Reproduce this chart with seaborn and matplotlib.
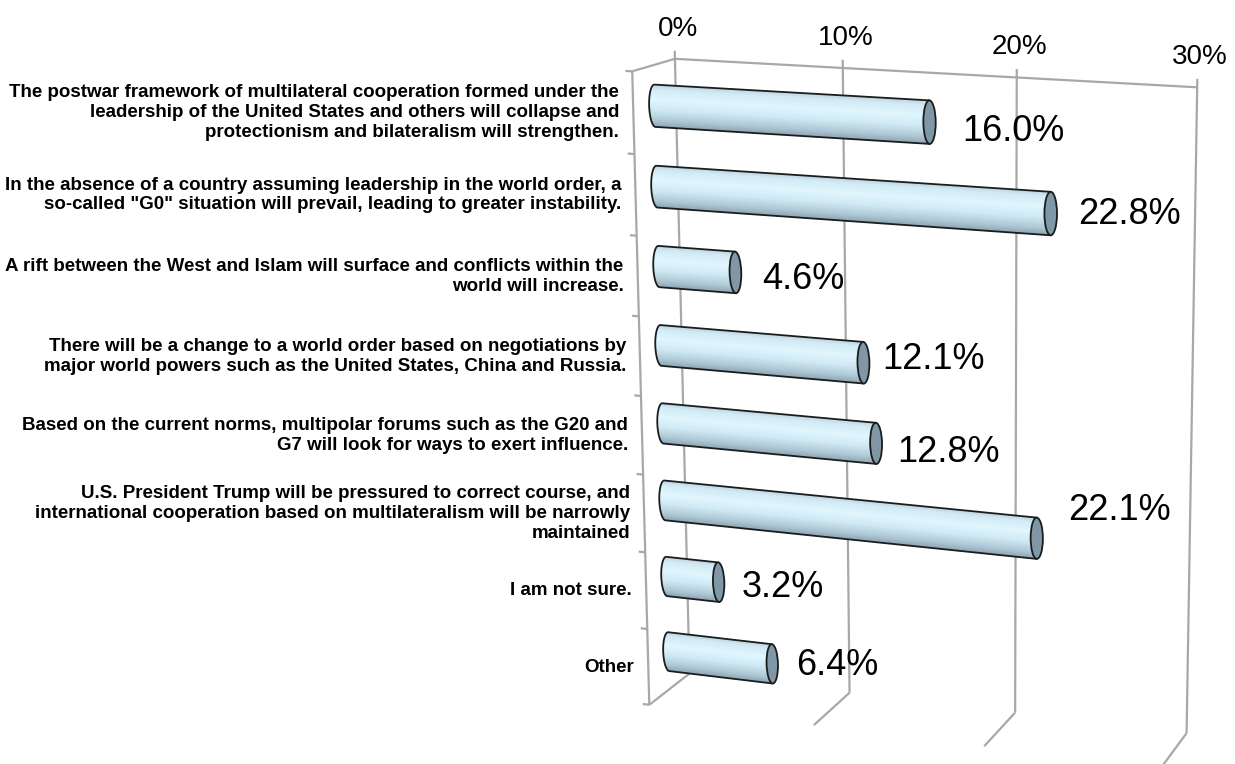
import numpy as np
import pandas as pd
import matplotlib
matplotlib.use("Agg")
import matplotlib.pyplot as plt
import seaborn as sns
from matplotlib.transforms import Transform, Affine2D
from matplotlib.patches import Ellipse
from matplotlib.collections import PolyCollection
from matplotlib.colors import LinearSegmentedColormap

answers = [
    "The postwar framework of multilateral cooperation formed under the\n"
    "leadership of the United States and others will collapse and\n"
    "protectionism and bilateralism will strengthen.",
    "In the absence of a country assuming leadership in the world order, a\n"
    "so-called \"G0\" situation will prevail, leading to greater instability.",
    "A rift between the West and Islam will surface and conflicts within the\n"
    "world will increase.",
    "There will be a change to a world order based on negotiations by\n"
    "major world powers such as the United States, China and Russia.",
    "Based on the current norms, multipolar forums such as the G20 and\n"
    "G7 will look for ways to exert influence.",
    "U.S. President Trump will be pressured to correct course, and\n"
    "international cooperation based on multilateralism will be narrowly\n"
    "maintained",
    "I am not sure.",
    "Other",
]
shares = [16.0, 22.8, 4.6, 12.1, 12.8, 22.1, 3.2, 6.4]
x_ticks = [0, 10, 20, 30]
x_tick_labels = ["0%", "10%", "20%", "30%"]

# Projective camera of the 3D chart box: (value %, category row, depth) -> image pixels
CAMERA = np.array([
    [15.761348473466947, 6.263390388283098, 64.87475850396225, 633.3409049516717],
    [0.8199729302707255, 83.424575985697, -10.51734908727567, 112.79693302190563],
    [-0.001809962659201858, 0.006367722335778758, 0.033042573663046915, 1.0],
])

W_PX, H_PX = 1235, 764
Y_TOP, Y_BOT = -0.5, 7.5
CAP_W = 0.7          # width of the tube end caps, in percent units
BAR_W = 0.52


def plane(origin, e1, e2):
    m = np.zeros((4, 3))
    m[:3, 0] = e1
    m[:3, 1] = e2
    m[:3, 2] = origin
    m[3, 2] = 1.0
    return CAMERA @ m


class PlaneView(Transform):
    """Perspective view of one plane of the 3D chart box, in display pixels."""
    input_dims = 2
    output_dims = 2
    is_separable = False
    has_inverse = False

    def __init__(self, hom):
        super().__init__()
        self._hom = np.asarray(hom, float)

    def transform_non_affine(self, values):
        v = np.asarray(values, float).reshape(-1, 2)
        p = np.column_stack([v, np.ones(len(v))]) @ self._hom.T
        return np.column_stack([p[:, 0] / p[:, 2], H_PX - p[:, 1] / p[:, 2]])


bar_view = PlaneView(plane([0, 0, 0.5], [1, 0, 0], [0, 1, 0]))
back_view = PlaneView(plane([0, 0, 1], [1, 0, 0], [0, 1, 0]))
front_view = PlaneView(plane([0, 0, 0], [1, 0, 0], [0, 1, 0]))
floor_view = PlaneView(plane([0, Y_BOT, 0], [1, 0, 0], [0, 0, 1]))
side_view = PlaneView(plane([0, 0, 0], [0, 0, 1], [0, 1, 0]))

sns.set_theme(style="white")
plt.rcParams["font.family"] = ["Liberation Sans", "DejaVu Sans"]

fig = plt.figure(figsize=(W_PX / 100, H_PX / 100), dpi=100)
fig.patch.set_facecolor("white")
ax = fig.add_axes([0, 0, 1, 1])

df = pd.DataFrame({"answer": answers, "share": shares})
sns.barplot(data=df, x="share", y="answer", orient="h", color="#cfe9f5",
            width=BAR_W, saturation=1, errorbar=None, ax=ax)
ax.set_axis_off()
bars = list(ax.patches)

# walls and gridlines
grid_kw = dict(color="#a8a8a8", lw=1.6, solid_capstyle="butt", clip_on=False, zorder=1)
for xt in x_ticks:
    ax.plot([xt, xt], [Y_TOP - 0.1, Y_BOT], transform=back_view, **grid_kw)
    ax.plot([xt, xt], [1, 0], transform=floor_view, **grid_kw)
ax.plot([x_ticks[0], x_ticks[-1]], [Y_TOP, Y_TOP], transform=back_view, **grid_kw)
ax.plot([0, 0], [Y_TOP, Y_BOT], transform=front_view, **grid_kw)
ax.plot([0, 1], [Y_TOP, Y_TOP], transform=side_view, **grid_kw)
for yb in np.arange(Y_TOP, Y_BOT + 0.01, 1.0):
    ax.plot([-0.4, 0], [yb, yb], transform=front_view, **grid_kw)

# tubes
tube_cmap = LinearSegmentedColormap.from_list("tube", [
    (0.0, "#b9d3df"), (0.12, "#d2ebf6"), (0.35, "#e2f7fe"),
    (0.6, "#d0eaf5"), (0.85, "#adc7d4"), (1.0, "#8ba5b4")])
outline = "#1c1c1c"
for bar in bars:
    bar.set_transform(bar_view)
    bar.set_clip_on(False)
    bar.set_edgecolor("none")
    bar.set_zorder(2)
    x0, w = bar.get_x(), bar.get_width()
    y0, hgt = bar.get_y(), bar.get_height()
    yc = y0 + hgt / 2
    n = 48
    ys = np.linspace(y0, y0 + hgt, n + 1)
    xl = x0 - CAP_W / 2 * np.sqrt(np.clip(1 - ((ys - yc) / (hgt / 2)) ** 2, 0, 1))
    polys = [[(xl[k], ys[k]), (x0 + w, ys[k]), (x0 + w, ys[k + 1]), (xl[k + 1], ys[k + 1])]
             for k in range(n)]
    cols = tube_cmap((np.arange(n) + 0.5) / n)
    pc = PolyCollection(polys, facecolors=cols, edgecolors=cols, linewidths=0.4,
                        transform=bar_view, zorder=3, clip_on=False)
    ax.add_collection(pc, autolim=False)
    t = np.linspace(-np.pi / 2, np.pi / 2, 60)
    ox = np.concatenate([[x0 + w], x0 - CAP_W / 2 * np.cos(t), [x0 + w]])
    oy = np.concatenate([[y0], yc + hgt / 2 * np.sin(t), [y0 + hgt]])
    ax.plot(ox, oy, color=outline, lw=1.3, transform=bar_view, zorder=4, clip_on=False)
    ax.add_patch(Ellipse((x0 + w, yc), CAP_W, hgt, facecolor="#7f97a6", edgecolor=outline,
                         lw=1.3, transform=bar_view, zorder=5, clip_on=False))

# value labels, placed beside each tube's end cap (pixel nudges right / down)
label_nudge = [(33, 6), (27, -3), (27, 4), (19, -7), (21, 6), (31, -31), (23, 2), (24, -2)]
val_size = 26
cap_half = 0.716 * val_size * 100 / 72 / 2
for bar, v, (dx, dy) in zip(bars, shares, label_nudge):
    yc = bar.get_y() + bar.get_height() / 2
    tr = bar_view + Affine2D().translate(dx, -dy - cap_half)
    ax.text(bar.get_x() + bar.get_width(), yc, f"{v:.1f}%", transform=tr,
            ha="left", va="baseline", fontsize=val_size, color="black", zorder=6)

# axis tick labels along the top of the back wall
tick_size = 20
for xt, lab in zip(x_ticks, x_tick_labels):
    tr = back_view + Affine2D().translate(3, 33 - 0.716 * tick_size * 100 / 72 / 2)
    ax.text(xt, Y_TOP, lab, transform=tr, ha="center", va="baseline",
            fontsize=tick_size, color="black")

# category labels beside the side wall
for i, ans in enumerate(answers):
    tr = front_view + Affine2D().translate(-14, 0)
    ax.text(0, i, ans, transform=tr, ha="right", va="center", multialignment="right",
            fontsize=13.5, fontweight="bold", linespacing=1.22, color="black")

fig.savefig("out.png", dpi=100, facecolor="white")
